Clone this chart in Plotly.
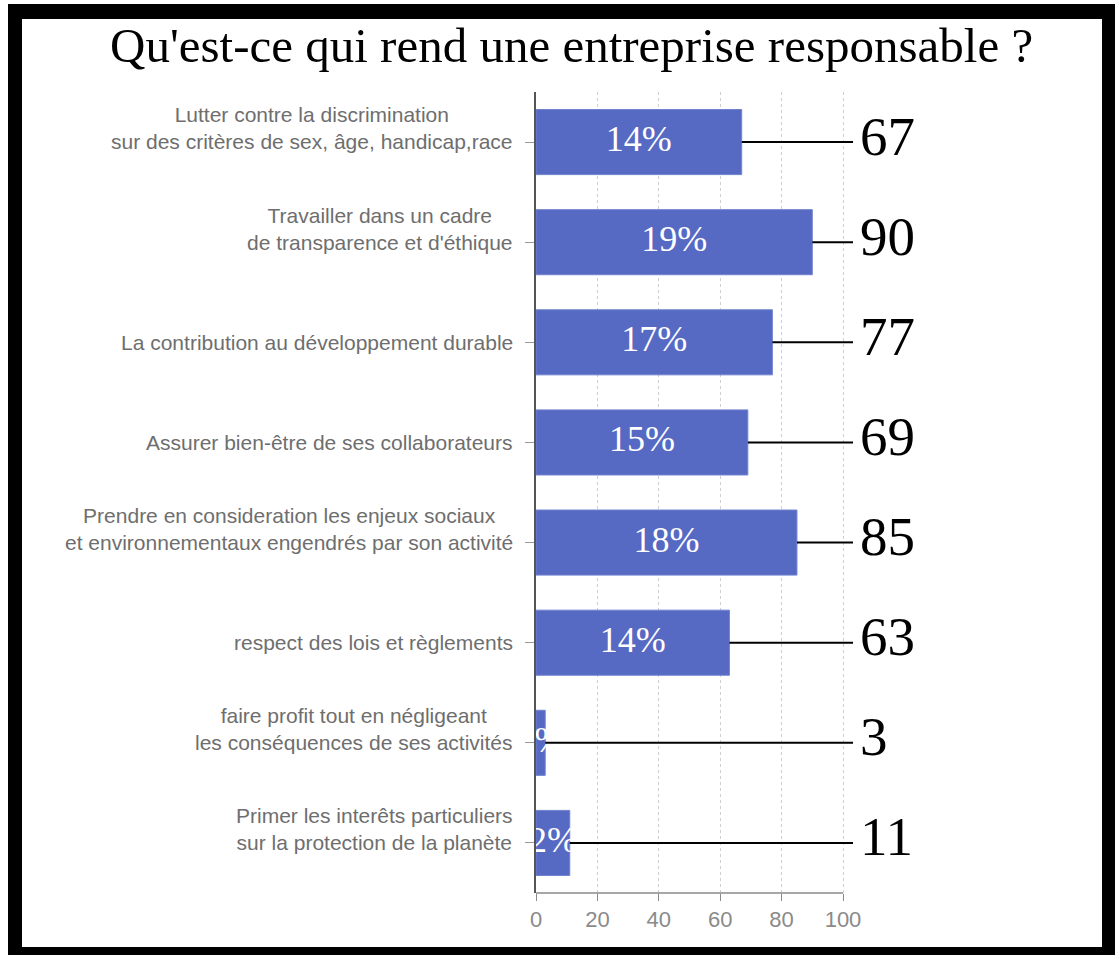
import plotly.graph_objects as go

# Survey answers: "What makes a company responsible?"
categories = [
    "Lutter contre la discrimination<br>sur des critères de sex, âge, handicap,race",
    "Travailler dans un cadre<br>de transparence et d'éthique",
    "La contribution au développement durable",
    "Assurer bien-être de ses collaborateurs",
    "Prendre en consideration les enjeux sociaux<br>et environnementaux engendrés par son activité",
    "respect des lois et règlements",
    "faire profit tout en négligeant<br>les conséquences de ses activités",
    "Primer les interêts particuliers<br>sur la protection de la planète",
]
counts = [67, 90, 77, 69, 85, 63, 3, 11]
x_ticks = [0, 20, 40, 60, 80, 100]

total = sum(counts)
shares = [f"{round(c / total * 100)}%" for c in counts]

# Canvas geometry (pixels)
W, H = 1115, 955
ML, MR, MT, MB = 536, 115, 92, 62
PW, PH = W - ML - MR, H - MT - MB
PX_PER_UNIT = 3.07
X_MAX = PW / PX_PER_UNIT


def px_x(px):
    return (px - ML) / PW


def px_y(py):
    return (H - MB - py) / PH


def to_data_x(px):
    return (px - ML) / PX_PER_UNIT


SERIF = "Liberation Serif, Times New Roman, serif"
SANS = "Liberation Sans, Arial, sans-serif"
BAR_BLUE = "#5669c3"
LABEL_GREY = "#6e6e6e"

fig = go.Figure()

fig.add_trace(go.Bar(
    x=counts, y=categories, orientation="h",
    width=0.65,
    marker=dict(color=BAR_BLUE, line=dict(color="#7083cf", width=1)),
    hoverinfo="skip",
))

# Share of all answers, written in the middle of each bar
fig.add_trace(go.Scatter(
    x=[c / 2 for c in counts], y=categories,
    mode="text", text=shares,
    textfont=dict(family=SERIF, size=36, color="white"),
    textposition="middle center",
    cliponaxis=False, hoverinfo="skip",
))

shapes = [
    # black frame around the whole chart
    dict(type="rect", xref="paper", yref="paper",
         x0=px_x(8), x1=px_x(1115), y0=px_y(955), y1=px_y(4),
         fillcolor="black", line=dict(width=0), layer="below"),
    dict(type="rect", xref="paper", yref="paper",
         x0=px_x(22), x1=px_x(1102), y0=px_y(947), y1=px_y(19),
         fillcolor="white", line=dict(width=0), layer="below"),
    # bottom axis line, only across the 0-100 scale
    dict(type="line", xref="x", yref="paper",
         x0=x_ticks[0], x1=x_ticks[-1], y0=0, y1=0,
         line=dict(color="#8a8a8a", width=1.5)),
]

line_end = to_data_x(853)
num_x = to_data_x(858)
annotations = []
for cat, c in zip(categories, counts):
    shapes.append(dict(type="line", xref="x", yref="y",
                       x0=c, x1=line_end, y0=cat, y1=cat,
                       line=dict(color="black", width=2)))
    annotations.append(dict(
        x=num_x, y=cat, xref="x", yref="y",
        text=str(c), showarrow=False, xanchor="left", yanchor="middle",
        yshift=6, font=dict(family=SERIF, size=55, color="black"),
    ))
    n_lines = cat.count("<br>") + 1
    annotations.append(dict(
        x=px_x(515), y=cat, xref="paper", yref="y",
        text=cat, showarrow=False, xanchor="right", yanchor="middle",
        align="center", yshift=(n_lines - 1) * 1.3 * 21 / 2,
        font=dict(family=SANS, size=21, color=LABEL_GREY),
    ))

annotations.append(dict(
    x=px_x(571), y=px_y(45), xref="paper", yref="paper",
    text="Qu'est-ce qui rend une entreprise responsable ?",
    showarrow=False, xanchor="center", yanchor="middle",
    font=dict(family=SERIF, size=49, color="black"),
))

fig.update_layout(
    width=W, height=H,
    margin=dict(l=ML, r=MR, t=MT, b=MB, pad=0),
    paper_bgcolor="white", plot_bgcolor="rgba(0,0,0,0)",
    showlegend=False,
    shapes=shapes, annotations=annotations,
    xaxis=dict(
        range=[0, X_MAX], tickvals=x_ticks, ticktext=[str(t) for t in x_ticks],
        showgrid=True, gridcolor="#cfcfcf", griddash="dot", gridwidth=1,
        zeroline=False, showline=False,
        ticks="outside", ticklen=7, tickcolor="#8a8a8a", tickwidth=1,
        tickfont=dict(family=SANS, size=22, color="#8a8a8a"),
        fixedrange=True,
    ),
    yaxis=dict(
        categoryorder="array", categoryarray=categories,
        autorange="reversed",
        showticklabels=False, showgrid=False, zeroline=False,
        showline=True, linecolor="#555555", linewidth=1.5,
        ticks="outside", ticklen=9, tickcolor="#999999", tickwidth=1,
        fixedrange=True,
    ),
)

fig.write_html("out.html")
